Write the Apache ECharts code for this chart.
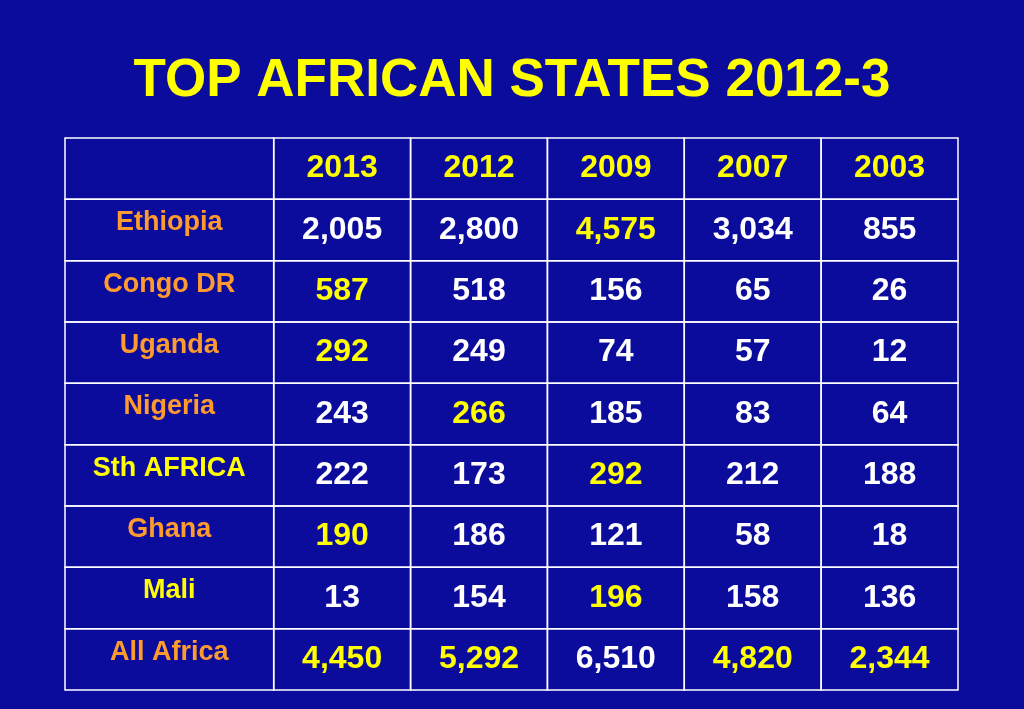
<!DOCTYPE html>
<html><head><meta charset="utf-8">
<script src="https://cdn.jsdelivr.net/npm/echarts@6/dist/echarts.min.js"></script>
<style>html,body{margin:0;padding:0;background:#0c0c9c;}#c{width:1024px;height:709px;}</style>
</head><body><div id="c"></div>
<script>
const title = 'TOP AFRICAN STATES 2012-3';
const years = ['2013','2012','2009','2007','2003'];
const countries = ['Ethiopia','Congo DR','Uganda','Nigeria','Sth AFRICA','Ghana','Mali','All Africa'];
const countryHighlight = [false,false,false,false,true,false,true,false];
const values = [
  ['2,005','2,800','4,575','3,034','855'],
  ['587','518','156','65','26'],
  ['292','249','74','57','12'],
  ['243','266','185','83','64'],
  ['222','173','292','212','188'],
  ['190','186','121','58','18'],
  ['13','154','196','158','136'],
  ['4,450','5,292','6,510','4,820','2,344']
];
const highlights = [
  [0,0,1,0,0],[1,0,0,0,0],[1,0,0,0,0],[0,1,0,0,0],
  [0,0,1,0,0],[1,0,0,0,0],[0,0,1,0,0],[1,1,0,1,1]
];
const YELLOW='#ffff00', ORANGE='#ff9a2e', WHITE='#ffffff';
const FIRST=1.525;
const data=[];
data.push([0,0,'',0,'corner']);
years.forEach((y,i)=>data.push([i+1,0,y,1,'head']));
countries.forEach((c,r)=>{
  data.push([0,r+1,c,countryHighlight[r]?1:0,'row']);
  values[r].forEach((v,i)=>data.push([i+1,r+1,v,highlights[r][i],'val']));
});
const chart=echarts.init(document.getElementById('c'));
chart.setOption({
  backgroundColor:'#0c0c9c',
  title:{text:title,left:'center',top:50,textStyle:{color:YELLOW,fontFamily:'"Liberation Sans", Arial, sans-serif',fontWeight:'bold',fontSize:53}},
  grid:{left:65,right:66,top:138,bottom:19},
  xAxis:{type:'value',min:0,max:FIRST+5,show:false},
  yAxis:{type:'value',min:0,max:9,inverse:true,show:false},
  series:[{type:'custom',data:data,renderItem:function(p,api){
    const col=api.value(0),row=api.value(1);
    const x0=col===0?0:FIRST+col-1, x1=col===0?FIRST:FIRST+col;
    const a=api.coord([x0,row]), b=api.coord([x1,row+1]);
    const d=data[p.dataIndex]; const kind=d[4];
    let color=WHITE, size=32, yOff=0;
    if(kind==='head'){color=YELLOW;}
    else if(kind==='row'){color=d[3]?YELLOW:ORANGE;size=27;yOff=-7;}
    else if(d[3]){color=YELLOW;}
    return {type:'group',children:[
      {type:'rect',shape:{x:a[0],y:a[1],width:b[0]-a[0],height:b[1]-a[1]},style:{fill:'none',stroke:'#ffffff',lineWidth:1.5}},
      {type:'text',style:{text:d[2],x:(a[0]+b[0])/2,y:(a[1]+b[1])/2+yOff,align:'center',verticalAlign:'middle',fill:color,font:'bold '+size+'px "Liberation Sans", Arial, sans-serif'}}
    ]};
  }}]
});
</script></body></html>
